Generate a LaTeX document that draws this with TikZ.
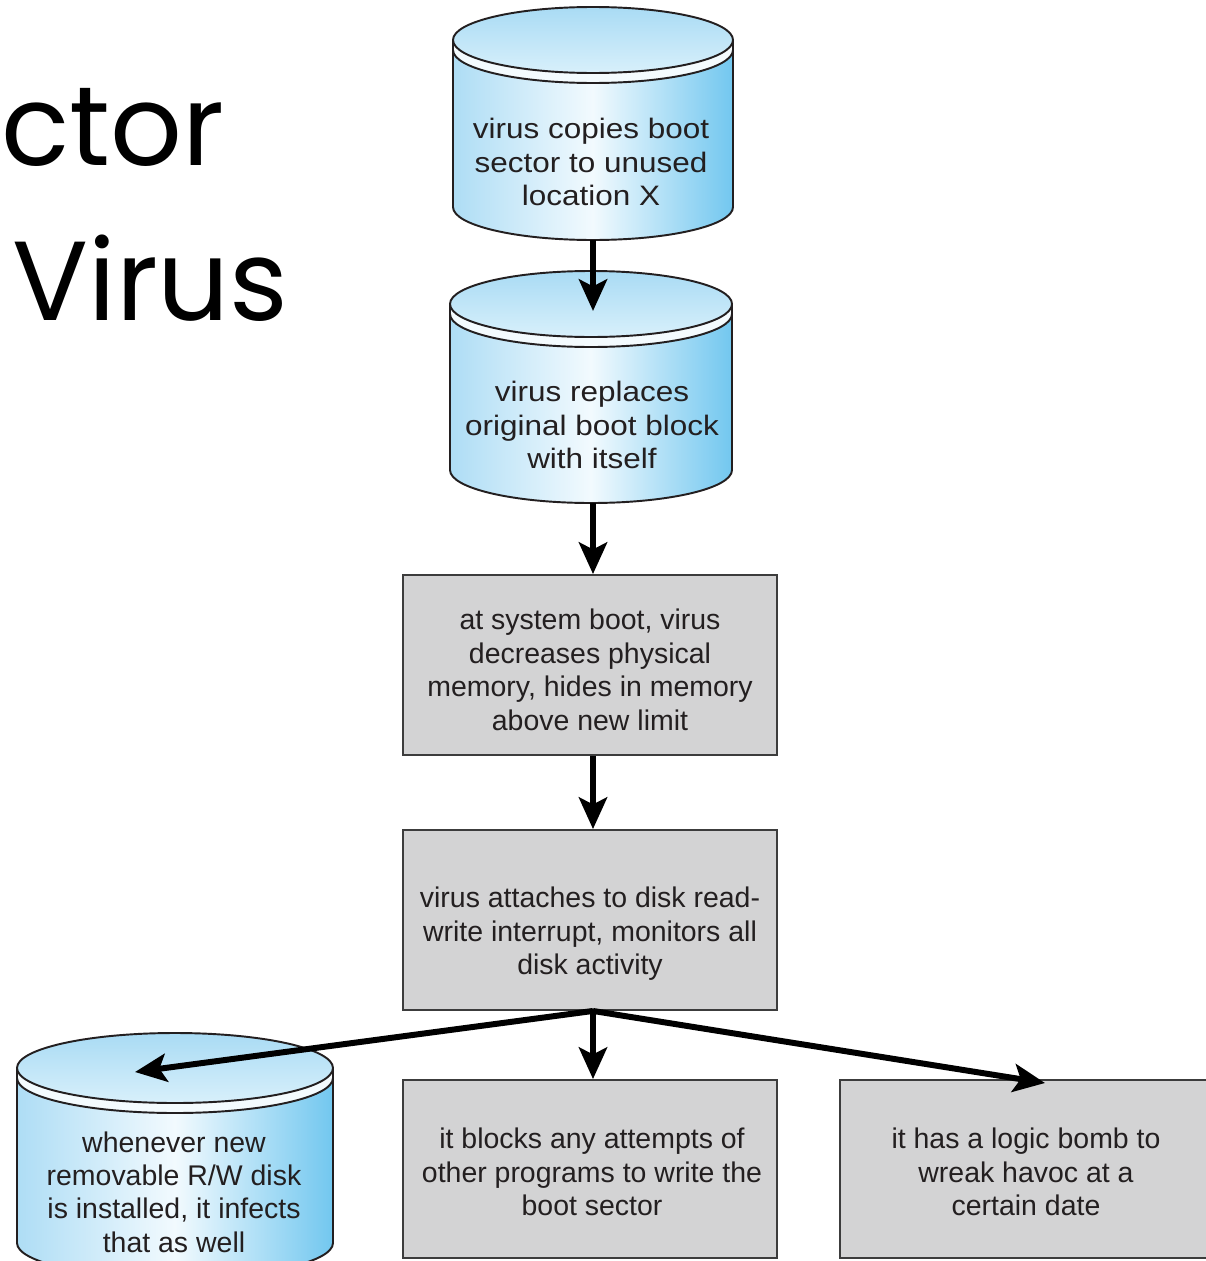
\documentclass[tikz,border=0pt]{standalone}
\usepackage{fontspec}
\setmainfont{Liberation Sans}
\newfontfamily\titlefont{Poppins}
\newfontfamily\widefont[FakeStretch=1.12]{Liberation Sans}
\usetikzlibrary{arrows.meta}

\definecolor{cylL}{HTML}{AEDDF5}
\definecolor{cylM}{HTML}{F2FAFE}
\definecolor{cylR}{HTML}{72C7EF}
\definecolor{capA}{HTML}{A9DBF4}
\definecolor{capB}{HTML}{D8F0FB}
\definecolor{lip}{HTML}{F4FBFE}
\definecolor{boxfill}{HTML}{D3D3D4}
\definecolor{boxline}{HTML}{3C3C3C}
\definecolor{ink}{HTML}{231F20}

\tikzset{
  cylline/.style={draw=ink, line width=1.1pt},
  cyltext/.style={font=\widefont\fontsize{16}{19}\selectfont, align=center, text=ink, inner sep=0pt},
  disktext/.style={font=\fontsize{16.2}{19}\selectfont, align=center, text=ink, inner sep=0pt},
  greybox/.style={draw=boxline, fill=boxfill, line width=1.1pt, minimum width=7.48cm,
    minimum height=3.6cm, inner sep=0pt},
  boxtext/.style={font=\fontsize{16.2}{19.1}\selectfont, align=center, text=ink, inner sep=0pt},
  flow/.style={draw=black, line width=3.4pt,
    -{Stealth[length=18pt, width=16pt, inset=4pt]}},
  titletext/.style={font=\titlefont\fontsize{64}{66}\selectfont, inner sep=0pt, text=black}
}

% disk drawing: #1,#2 centre of the top ellipse, #3,#4 radii, #5 lower end of the sides
\newcommand\drawdisk[5]{%
  \pgfmathsetmacro\dkrx{#3*0.02}%
  \pgfmathsetmacro\dkry{#4*0.02}%
  \fill[left color=cylL, right color=cylR, middle color=cylM]
    (#1-#3,#2) -- (#1-#3,#5)
    arc[start angle=180, end angle=360, x radius=\dkrx cm, y radius=\dkry cm]
    -- (#1+#3,#2) -- cycle;
  \fill[lip] (#1-#3,#2)
    arc[start angle=180, end angle=360, x radius=\dkrx cm, y radius=\dkry cm]
    -- (#1+#3,#2+10)
    arc[start angle=0, end angle=-180, x radius=\dkrx cm, y radius=\dkry cm]
    -- cycle;
  \filldraw[top color=capA, bottom color=capB, cylline]
    (#1,#2) ellipse[x radius=\dkrx cm, y radius=\dkry cm];
  \draw[cylline] (#1-#3,#2) -- (#1-#3,#5)
    arc[start angle=180, end angle=360, x radius=\dkrx cm, y radius=\dkry cm]
    -- (#1+#3,#2);
  \draw[cylline] (#1-#3,#2+10)
    arc[start angle=180, end angle=360, x radius=\dkrx cm, y radius=\dkry cm];
}

\begin{document}
\begin{tikzpicture}[x=0.02cm, y=-0.02cm]
  \useasboundingbox (0,0) rectangle (1206,1261);
  \clip (0,0) rectangle (1206,1261);
  \fill[white] (0,0) rectangle (1206,1261);

  % title
  \node[titletext, anchor=base west] (title1) at (1,165) {ctor};
  \node[titletext, anchor=base west] (title2) at (12,320) {Virus};

  % disks
  \drawdisk{593}{40}{140}{33}{207}
  \node[cyltext] (c1) at (591,162) {virus copies boot\\sector to unused\\location X};
  \coordinate (c1b) at (593,240);
  \coordinate (c2t) at (593,311);

  \drawdisk{591}{304}{141}{33}{470}
  \node[cyltext] (c2) at (592,425) {virus replaces\\original boot block\\with itself};
  \coordinate (c2b) at (593,503);

  \drawdisk{175}{1068}{158}{35}{1243}
  \node[disktext] (c3) at (174,1192) {whenever new\\removable R/W disk\\is installed, it infects\\that as well};
  \coordinate (c3t) at (135,1072);

  % grey steps
  \node[greybox] (b3) at (590,665) {};
  \node[boxtext] (t3) at (590,670) {at system boot, virus\\decreases physical\\memory, hides in memory\\above new limit};
  \node[greybox] (b4) at (590,920) {};
  \node[boxtext] (t4) at (590,934) {virus attaches to disk read-\\write interrupt, monitors all\\disk activity};
  \node[greybox, minimum height=3.56cm] (b5) at (590,1169) {};
  \node[boxtext] (t5) at (592,1172) {it blocks any attempts of\\other programs to write the\\boot sector};
  \node[greybox, minimum height=3.56cm, minimum width=7.44cm] (b6) at (1026,1169) {};
  \node[boxtext] (t6) at (1026,1172) {it has a logic bomb to\\wreak havoc at a\\certain date};

  % connectors
  \coordinate (fork) at (c2b |- b4.south);
  \coordinate (b6t) at (1045,1083);
  \draw[flow] (c1b) -- (c2t);
  \draw[flow] (c2b) -- (c2b |- b3.north);
  \draw[flow] (c2b |- b3.south) -- (c2b |- b4.north);
  \draw[flow] (fork) -- (fork |- b5.north);
  \draw[flow] (fork) -- (c3t);
  \draw[flow] (fork) -- (b6t);
\end{tikzpicture}
\end{document}
